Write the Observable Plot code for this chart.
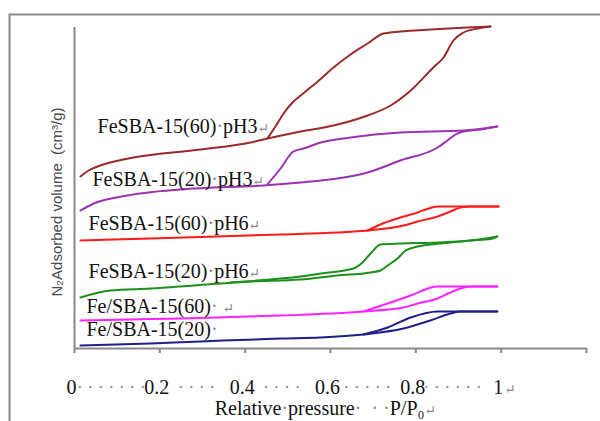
<!DOCTYPE html>
<html><head><meta charset="utf-8">
<script src="https://cdn.jsdelivr.net/npm/d3@7"></script>
<script src="https://cdn.jsdelivr.net/npm/@observablehq/plot@0.6"></script>
<style>
html,body{margin:0;padding:0;background:#fff;overflow:hidden;}
#chart svg{display:block;overflow:hidden;}
#chart svg text, #chart svg tspan{font-family:"Liberation Serif","Times New Roman","DejaVu Serif",serif !important;}
#chart svg g.ytitle text{font-family:"Liberation Sans",Arial,"DejaVu Sans",sans-serif !important;}
</style></head><body><div id="chart"></div>
<script>
// Samples (legend labels typed next to curves) and their colours
const sampleNames = ["FeSBA-15(60)·pH3", "FeSBA-15(20)·pH3", "FeSBA-15(60)·pH6", "FeSBA-15(20)·pH6", "Fe/SBA-15(60)", "Fe/SBA-15(20)"];
const sampleColors = ["#9A2B2B", "#9933B0", "#FF1A1A", "#1E8F1E", "#FF22FF", "#1F1F8C"];
const labelTexts = ["FeSBA-15(60)·pH3↵", "FeSBA-15(20)·pH3↵", "FeSBA-15(60)·pH6↵", "FeSBA-15(20)·pH6↵", "Fe/SBA-15(60)· ↵", "Fe/SBA-15(20)·"];
const labelP = [0.054, 0.042, 0.033, 0.033, 0.028, 0.028];
const labelV = [216, 163, 119, 71, 36, 13];

// Isotherm branches: [relative pressure P/P0, adsorbed volume (offset, arbitrary units)]
const ads_FeSBA60_pH3 = [[0.014,172],[0.033,178],[0.054,182],[0.084,186],[0.138,191],[0.295,199],[0.413,206],[0.452,210],[0.530,217],[0.607,223],[0.687,233],[0.741,243],[0.788,258],[0.841,281],[0.865,291],[0.888,308],[0.912,316],[0.945,320],[0.975,322]];
const des_FeSBA60_pH3 = [[0.452,210],[0.471,222],[0.490,235],[0.511,246],[0.530,253],[0.570,267],[0.607,281],[0.647,294],[0.687,305],[0.724,315],[0.764,317],[0.834,319],[0.921,321],[0.975,322]];

const ads_FeSBA20_pH3 = [[0.014,138],[0.045,145],[0.124,153],[0.279,160],[0.443,163],[0.530,166],[0.616,170],[0.687,176],[0.764,188],[0.851,201],[0.874,208],[0.893,214],[0.912,217],[0.952,219],[0.991,222]];
const des_FeSBA20_pH3 = [[0.452,164],[0.483,180],[0.513,197],[0.537,200],[0.577,206],[0.647,211],[0.764,216],[0.912,218],[0.991,222]];

const ads_FeSBA60_pH6 = [[0.014,108],[0.178,110],[0.295,111.5],[0.483,114],[0.616,116],[0.687,118],[0.771,123],[0.804,127],[0.851,132],[0.881,137],[0.905,141],[0.928,142],[0.994,142]];
const des_FeSBA60_pH6 = [[0.687,118],[0.717,124],[0.757,130],[0.804,136],[0.823,139],[0.851,142],[0.905,142],[0.994,142]];

const ads_FeSBA20_pH6 = [[0.014,51],[0.084,58],[0.178,60],[0.279,63],[0.413,67],[0.530,69],[0.616,73],[0.694,76],[0.717,78],[0.734,83],[0.757,90],[0.776,98],[0.804,102],[0.858,105],[0.928,108],[0.975,109.5],[0.991,112]];
const des_FeSBA20_pH6 = [[0.366,66],[0.459,69],[0.530,72],[0.577,75],[0.654,80],[0.675,86],[0.694,95],[0.717,104],[0.764,105],[0.851,106],[0.928,108],[0.991,112]];

const ads_Fe_SBA60 = [[0.014,28],[0.178,29.5],[0.295,30.5],[0.483,33],[0.600,35],[0.677,37],[0.771,41],[0.804,45],[0.851,50],[0.881,56],[0.905,60],[0.928,62],[0.991,62]];
const des_Fe_SBA60 = [[0.677,37],[0.734,45],[0.788,53],[0.851,62],[0.905,62],[0.991,62]];

const ads_Fe_SBA20 = [[0.014,3],[0.178,5],[0.295,7],[0.483,10],[0.577,11],[0.677,14],[0.771,20],[0.834,28],[0.881,35],[0.905,37],[0.991,37]];
const des_Fe_SBA20 = [[0.677,14],[0.734,21],[0.788,31],[0.851,37],[0.905,37],[0.991,37]];

const adsBranches = [ads_FeSBA60_pH3, ads_FeSBA20_pH3, ads_FeSBA60_pH6, ads_FeSBA20_pH6, ads_Fe_SBA60, ads_Fe_SBA20];
const desBranches = [des_FeSBA60_pH3, des_FeSBA20_pH3, des_FeSBA60_pH6, des_FeSBA20_pH6, des_Fe_SBA60, des_Fe_SBA20];

// Axis ticks and typed tick-label row
const xTickValues = [0, 0.2, 0.4, 0.6, 0.8, 1.0, 1.2];
const xLabelValues = [0, 0.2, 0.4, 0.6, 0.8, 1];
const xLabelTexts = ["0", "0.2", "0.4", "0.6", "0.8", "1"];
const gapDotCounts = [7, 4, 4, 5, 6];
const xTitle = "Relative·pressure·  · ·P/P₀↵";
const yTitle = "N₂Adsorbed volume  (cm³/g)";

const rows = [];
sampleNames.forEach((name, i) => {
  adsBranches[i].forEach(([p, v]) => rows.push({sample: name, branch: "ads", P: p, V: v}));
  desBranches[i].forEach(([p, v]) => rows.push({sample: name, branch: "des", P: p, V: v}));
});
const labelRows = labelTexts.map((t, i) => ({text: t, P: labelP[i], V: labelV[i]}));
const gapRows = gapDotCounts.map((n, i) => ({n, P: (xLabelValues[i] + xLabelValues[i + 1]) / 2}));
const tickLabelRows = xLabelValues.map((v, i) => ({v, t: xLabelTexts[i]}));

const axisGray = "#8a8a8a";
const svg = Plot.plot({
  width: 600, height: 421,
  marginLeft: 74, marginRight: 14, marginTop: 27, marginBottom: 73,
  x: {domain: [0, 1.2], axis: null, label: null},
  y: {domain: [0, 321], axis: null, label: null},
  color: {domain: sampleNames, range: sampleColors},
  style: {fontSize: "20px", background: "#fff", color: "#111"},
  marks: [
    Plot.frame({stroke: axisGray, strokeWidth: 2, insetLeft: -65, insetTop: -13, insetRight: -200, insetBottom: -300}),
    Plot.ruleX([0], {stroke: axisGray, strokeWidth: 2}),
    Plot.ruleY([0], {stroke: axisGray, strokeWidth: 2}),
    Plot.ruleX(xTickValues, {x: d => d, y1: 0, y2: 0, insetBottom: -5, stroke: axisGray, strokeWidth: 2}),
    Plot.line(rows, {x: "P", y: "V", z: d => d.sample + "|" + d.branch, stroke: "sample", strokeWidth: 2, curve: "monotone-x"}),
    Plot.text(labelRows, {x: "P", y: "V", text: "text", textAnchor: "start", lineAnchor: "bottom", fill: "#111", fontSize: 20}),
    Plot.text(tickLabelRows, {x: "v", text: "t", frameAnchor: "bottom", lineAnchor: "bottom", dy: 45, dx: -3, fill: "#111", fontSize: 20}),
    Plot.text([1], {x: d => d, text: () => "↵", frameAnchor: "bottom", lineAnchor: "bottom", dy: 45, dx: 3, textAnchor: "start", fill: "#111", fontSize: 20}),
    Plot.text(gapRows, {x: "P", text: d => Array(d.n).fill("·").join(" "), frameAnchor: "bottom", lineAnchor: "bottom", dy: 44, dx: -6, fill: "#8c8c8c", fontSize: 18}),
    Plot.text([xTitle], {text: d => d, frameAnchor: "bottom", lineAnchor: "bottom", dy: 66, dx: -5, fill: "#111", fontSize: 20}),
    Plot.text([yTitle], {text: d => d, frameAnchor: "left", textAnchor: "middle", lineAnchor: "middle", rotate: -90, dx: -17, dy: 14, fill: "#4a4a4a", fontSize: 15})
  ]
});

// mark the y-title group so the sans font can be applied to it
d3.select(svg).selectAll("text").each(function () {
  if (this.textContent.startsWith("N₂")) this.parentNode.classList.add("ytitle");
});

// Word-style formatting marks (· and ↵) shown in gray
d3.select(svg).selectAll("text").each(function () {
  if (this.children.length) return;
  const s = this.textContent;
  if (!/[·↵]/.test(s)) return;
  if (/^[·\s]+$/.test(s)) return;
  const parts = s.match(/[·↵]+|[^·↵]+/g);
  this.textContent = "";
  for (const part of parts) {
    const t = document.createElementNS("http://www.w3.org/2000/svg", "tspan");
    t.textContent = part;
    if (/[·↵]/.test(part)) {
      t.setAttribute("fill", "#8c8c8c");
      if (part.includes("↵")) t.setAttribute("font-size", "14");
    }
    this.appendChild(t);
  }
});
document.getElementById("chart").appendChild(svg);
</script></body></html>
